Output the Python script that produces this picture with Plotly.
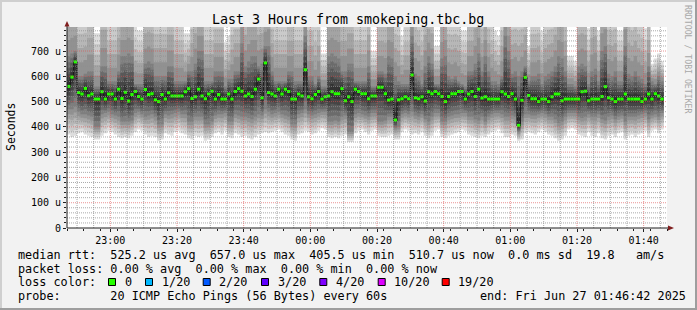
import plotly.graph_objects as go
from datetime import datetime, timedelta

# ---------------- data (values in microseconds) ----------------
# median rtt of each 1-minute step
med = [560, 597, 657, 536, 530, 552, 523, 530, 510, 510,
       539, 510, 530, 530, 510, 549, 512, 537, 502, 528,
       540, 520, 510, 548, 528, 531, 507, 500, 528, 510,
       535, 522, 522, 522, 522, 539, 551, 512, 519, 549,
       522, 511, 530, 541, 510, 528, 510, 510, 530, 510,
       540, 551, 541, 522, 530, 520, 549, 589, 515, 653,
       536, 530, 522, 549, 530, 549, 540, 510, 510, 530,
       522, 626, 519, 511, 528, 540, 510, 519, 522, 539,
       531, 531, 551, 503, 519, 500, 549, 540, 531, 531,
       511, 522, 522, 557, 557, 531, 506, 510, 427, 507,
       511, 519, 511, 605, 515, 511, 519, 502, 539, 531,
       540, 531, 520, 500, 520, 531, 531, 540, 540, 510,
       530, 540, 520, 549, 514, 519, 510, 510, 510, 510,
       539, 530, 520, 531, 510, 406, 505, 596, 524, 511,
       511, 500, 510, 510, 500, 519, 530, 530, 503, 510,
       510, 510, 510, 510, 539, 541, 503, 510, 510, 510,
       520, 559, 515, 510, 500, 510, 510, 530, 510, 510,
       510, 510, 500, 510, 530, 510, 531, 522, 510]

# upper quartile of the 20 pings
up = [680, 690, 700, 600, 600, 610, 620, 620, 560, 560,
      640, 640, 580, 580, 580, 620, 680, 680, 690, 680,
      570, 570, 570, 650, 660, 650, 600, 600, 600, 600,
      640, 640, 580, 580, 580, 580, 620, 620, 650, 700,
      700, 580, 580, 580, 620, 620, 620, 560, 590, 590,
      620, 620, 730, 640, 660, 680, 680, 640, 650, 720,
      720, 620, 580, 580, 580, 580, 620, 620, 580, 580,
      580, 760, 600, 600, 570, 600, 560, 560, 680, 690,
      680, 670, 620, 620, 650, 650, 580, 580, 580, 580,
      640, 560, 560, 620, 620, 610, 680, 670, 600, 580,
      570, 570, 570, 760, 610, 600, 570, 640, 680, 650,
      570, 570, 670, 680, 600, 590, 600, 580, 570, 560,
      620, 620, 650, 690, 620, 680, 620, 580, 580, 570,
      600, 760, 700, 610, 620, 600, 620, 640, 580, 600,
      600, 610, 570, 600, 610, 620, 640, 680, 670, 620,
      570, 570, 560, 640, 650, 640, 570, 620, 630, 580,
      700, 720, 610, 600, 620, 580, 580, 720, 610, 600,
      620, 600, 590, 570, 640, 580, 570, 600, 580]

# lower quartile of the 20 pings
dn = [470, 470, 480, 460, 450, 450, 445, 440, 400, 400,
      450, 455, 460, 450, 445, 440, 420, 420, 420, 425,
      455, 460, 450, 440, 445, 450, 440, 410, 410, 450,
      445, 450, 455, 460, 450, 450, 420, 420, 440, 440,
      440, 410, 410, 420, 445, 450, 450, 455, 420, 420,
      450, 445, 440, 440, 435, 430, 440, 450, 445, 470,
      460, 450, 455, 460, 450, 445, 440, 410, 410, 450,
      455, 470, 450, 445, 450, 455, 460, 460, 420, 420,
      425, 420, 440, 445, 380, 380, 450, 455, 450, 445,
      440, 455, 455, 420, 420, 425, 440, 440, 395, 400,
      450, 455, 450, 460, 445, 440, 450, 430, 420, 440,
      455, 455, 420, 420, 440, 445, 450, 450, 455, 455,
      440, 440, 430, 425, 440, 420, 440, 450, 455, 455,
      450, 440, 440, 445, 440, 380, 420, 450, 450, 445,
      445, 450, 455, 450, 440, 440, 430, 415, 420, 440,
      455, 455, 455, 440, 435, 440, 450, 440, 440, 450,
      430, 425, 440, 445, 430, 440, 445, 420, 440, 440,
      440, 445, 450, 455, 430, 445, 450, 440, 455]

# fastest ping of each step
lo = [370, 360, 365, 375, 380, 370, 365, 360, 350, 350,
      365, 375, 385, 380, 370, 360, 355, 360, 355, 365,
      380, 390, 385, 370, 360, 365, 360, 345, 350, 375,
      370, 365, 380, 385, 375, 370, 355, 350, 365, 360,
      365, 345, 350, 360, 375, 380, 370, 385, 360, 355,
      375, 370, 360, 365, 355, 350, 360, 370, 375, 380,
      375, 380, 385, 390, 380, 370, 365, 350, 345, 370,
      375, 385, 380, 370, 375, 385, 395, 390, 360, 355,
      360, 355, 365, 370, 340, 340, 375, 385, 390, 380,
      370, 385, 390, 365, 360, 360, 365, 370, 350, 350,
      380, 390, 385, 370, 375, 370, 380, 365, 355, 365,
      385, 390, 360, 355, 365, 370, 375, 380, 390, 385,
      370, 365, 360, 355, 365, 360, 370, 380, 385, 390,
      375, 360, 360, 370, 365, 345, 350, 375, 380, 375,
      370, 380, 390, 380, 370, 365, 355, 345, 350, 365,
      390, 395, 390, 370, 365, 360, 380, 365, 360, 375,
      355, 350, 365, 370, 360, 375, 380, 350, 365, 370,
      360, 370, 375, 385, 360, 385, 390, 375, 390]

# slowest ping of each step (many lie above the top of the graph)
hi = [1000, 1000, 1000, 880, 880, 880, 950, 950, 770, 770,
      1000, 1000, 850, 850, 850, 950, 1000, 1000, 1000, 1000,
      800, 780, 780, 950, 950, 950, 880, 880, 880, 880,
      950, 950, 850, 850, 850, 770, 770, 900, 950, 1000,
      1000, 850, 850, 850, 900, 900, 900, 735, 760, 880,
      900, 900, 1050, 950, 1000, 1000, 1000, 950, 950, 1000,
      1050, 900, 850, 850, 850, 850, 920, 920, 850, 850,
      850, 1100, 900, 900, 850, 900, 690, 690, 1000, 1000,
      1000, 1000, 920, 920, 950, 950, 850, 850, 850, 850,
      950, 700, 700, 920, 920, 920, 1000, 1000, 880, 880,
      760, 850, 850, 1100, 920, 900, 850, 950, 950, 950,
      720, 720, 1000, 1000, 880, 880, 880, 880, 780, 780,
      920, 920, 1000, 1000, 900, 1000, 900, 850, 780, 760,
      900, 1100, 1000, 900, 900, 900, 900, 950, 720, 880,
      880, 880, 780, 880, 900, 900, 950, 1000, 1000, 920,
      680, 680, 660, 950, 950, 950, 790, 950, 950, 780,
      1050, 1050, 900, 900, 900, 780, 780, 1050, 920, 900,
      920, 880, 860, 790, 900, 650, 670, 690, 660]

y_tick_vals = [0, 100, 200, 300, 400, 500, 600, 700]
y_tick_text = ["0", "100 u", "200 u", "300 u", "400 u", "500 u", "600 u", "700 u"]
x_tick_text = ["23:00", "23:20", "23:40", "00:00", "00:20", "00:40", "01:00", "01:20", "01:40"]

title_text = "Last 3 Hours from smokeping.tbc.bg"
legend_rtt = "median rtt:  525.2 us avg  657.0 us max  405.5 us min  510.7 us now  0.0 ms sd  19.8   am/s"
legend_loss = "packet loss: 0.00 % avg  0.00 % max  0.00 % min  0.00 % now"
legend_color_title = "loss color:"
loss_labels = ["0", "1/20", "2/20", "3/20", "4/20", "10/20", "19/20"]
loss_colors = ["#26ff00", "#00b8ff", "#0059ff", "#5e00ff", "#7e00ff", "#dd00ff", "#ff0000"]
probe_text = "probe:       20 ICMP Echo Pings (56 Bytes) every 60s"
end_text = "end: Fri Jun 27 01:46:42 2025"
watermark = "RRDTOOL / TOBI OETIKER"
PINGS = 20

# ---------------- geometry ----------------
W, H = 697, 310
PL, PR, PT, PB = 67, 667, 27, 228
Y_MAX = 795


def px(x):
    return (x - PL) / (PR - PL)


def py(y):
    return (PB - y) / (PB - PT)


start = datetime(2025, 6, 26, 22, 47, 0)
end = start + timedelta(hours=3)
n = len(med)
edges = [start + timedelta(minutes=i) for i in range(n + 1)]


def ext(v):
    return list(v) + [v[-1]]


def quant(i, p):
    """value of quantile p for step i, between the five read quantiles"""
    knots = [(0.0, lo[i]), (0.25, dn[i]), (0.5, med[i]), (0.75, up[i]), (1.0, hi[i])]
    for (p0, v0), (p1, v1) in zip(knots[:-1], knots[1:]):
        if p <= p1:
            return v0 + (v1 - v0) * (p - p0) / (p1 - p0)
    return knots[-1][1]


fig = go.Figure()

# smoke: layer k spans ping k .. ping (PINGS+1-k), darker towards the middle
half = PINGS // 2
for k in range(1, half + 1):
    p_lo = (k - 1) / PINGS
    p_hi = 1 - (k - 1) / PINGS
    low = [quant(i, p_lo) for i in range(n)]
    high = [quant(i, p_hi) for i in range(n)]
    g = int(190 / half * (half - k)) + 50
    col = f"rgb({g},{g},{g})"
    fig.add_trace(go.Scatter(x=edges, y=ext(low), mode="lines", line=dict(width=0, shape="hv"),
                             hoverinfo="skip", showlegend=False))
    fig.add_trace(go.Scatter(x=edges, y=ext(high), mode="lines", line=dict(width=0, shape="hv"),
                             fill="tonexty", fillcolor=col, hoverinfo="skip", showlegend=False))

# median connector
fig.add_trace(go.Scatter(x=edges, y=ext(med), mode="lines",
                         line=dict(width=1.2, shape="hv", color="#1a1a1a"),
                         hoverinfo="skip", showlegend=False))
# green median segments (0 % loss)
gx, gy = [], []
for i, m in enumerate(med):
    gx += [edges[i], edges[i + 1], None]
    gy += [m, m, None]
fig.add_trace(go.Scatter(x=gx, y=gy, mode="lines", line=dict(width=3, color=loss_colors[0]),
                         connectgaps=False, hoverinfo="skip", showlegend=False))

shapes = []
# grid (drawn over the smoke like rrdtool)
minor_col = "rgba(143,143,143,0.75)"
major_col = "rgba(222,79,79,0.6)"
for v in range(20, Y_MAX, 20):
    shapes.append(dict(type="line", xref="paper", yref="y", x0=0, x1=1, y0=v, y1=v,
                       line=dict(color=major_col if v % 100 == 0 else minor_col, width=1, dash="1px,1px"),
                       layer="above"))
t = start
major_times = []
while t <= end:
    if t.minute % 5 == 0 and t > start:
        is_major = t.minute % 20 == 0
        if is_major:
            major_times.append(t)
        shapes.append(dict(type="line", xref="x", yref="paper", x0=t, x1=t, y0=0, y1=1,
                           line=dict(color=major_col if is_major else minor_col, width=1, dash="1px,1px"),
                           layer="above"))
    t += timedelta(minutes=1)

# axes lines and arrows
axis_col = "#1f1f1f"
arrow_col = "#801f1f"
shapes.append(dict(type="line", xref="paper", yref="paper", x0=px(PL), x1=px(670), y0=0, y1=0,
                   line=dict(color=axis_col, width=1), layer="above"))
shapes.append(dict(type="line", xref="paper", yref="paper", x0=0, x1=0, y0=0, y1=py(24),
                   line=dict(color=axis_col, width=1), layer="above"))
shapes.append(dict(type="path", xref="paper", yref="paper",
                   path=f"M {px(668)} {py(225.5)} L {px(674)} {py(228)} L {px(668)} {py(230.5)} Z",
                   fillcolor=arrow_col, line=dict(width=0), layer="above"))
shapes.append(dict(type="path", xref="paper", yref="paper",
                   path=f"M {px(64.5)} {py(26.5)} L {px(67)} {py(21)} L {px(69.5)} {py(26.5)} Z",
                   fillcolor=arrow_col, line=dict(width=0), layer="above"))

# frame shading
shapes += [
    dict(type="rect", xref="paper", yref="paper", x0=px(0), x1=px(W), y0=py(0), y1=py(2),
         fillcolor="#cfcfcf", line=dict(width=0), layer="below"),
    dict(type="rect", xref="paper", yref="paper", x0=px(0), x1=px(2), y0=py(0), y1=py(H),
         fillcolor="#cfcfcf", line=dict(width=0), layer="below"),
    dict(type="rect", xref="paper", yref="paper", x0=px(0), x1=px(W), y0=py(H - 2), y1=py(H),
         fillcolor="#9e9e9e", line=dict(width=0), layer="below"),
    dict(type="rect", xref="paper", yref="paper", x0=px(W - 2), x1=px(W), y0=py(0), y1=py(H),
         fillcolor="#9e9e9e", line=dict(width=0), layer="below"),
]

# loss colour boxes
box_centers = [112, 149, 206.7, 265, 323.3, 381.7, 445.7]
for cx, col in zip(box_centers, loss_colors):
    shapes.append(dict(type="rect", xref="paper", yref="paper",
                       x0=px(cx - 3.5), x1=px(cx + 3.5), y0=py(278.5), y1=py(285.5),
                       fillcolor=col, line=dict(color="#000000", width=1), layer="above"))

MONO = "DejaVu Sans Mono"
nb = lambda s: s.replace(" ", "\u00a0")
ann = []


def add_text(text, x, y, size, xanchor="left", color="#000000", angle=0):
    ann.append(dict(text=nb(text), xref="paper", yref="paper", x=px(x), y=py(y),
                    xanchor=xanchor, yanchor="middle", showarrow=False, textangle=angle,
                    font=dict(family=MONO, size=size, color=color)))


add_text(title_text, 348, 19.5, 13.3, xanchor="center")
add_text("Seconds", 11, 127, 11.5, xanchor="center", angle=-90)
add_text(watermark, 688, 59, 8.2, xanchor="center", color="#a8a8a8", angle=90)
add_text(legend_rtt, 15.5, 254.7, 11.8)
add_text(legend_loss, 15.5, 268.5, 11.8)
add_text(legend_color_title, 15.5, 282.2, 11.8)
for cx, lab in zip(box_centers, loss_labels):
    add_text(lab, cx - 3.5 + 14, 282.2, 11.8)
add_text(probe_text, 15.5, 296.2, 11.8)
add_text(end_text, 477.5, 296.2, 11.8)

fig.update_layout(
    width=W, height=H,
    margin=dict(l=PL, r=W - PR, t=PT, b=H - PB, pad=0),
    paper_bgcolor="#f2f2f2", plot_bgcolor="#ffffff",
    showlegend=False,
    shapes=shapes, annotations=ann,
    xaxis=dict(type="date", range=[start, end], showgrid=False, zeroline=False, showline=False,
               tickmode="array", tickvals=major_times, ticktext=x_tick_text,
               ticks="outside", ticklen=3, tickcolor=axis_col,
               tickfont=dict(family=MONO, size=10, color="#000000"),
               minor=dict(tickmode="linear", tick0=start, dtick=300000, ticks="outside",
                          ticklen=2, tickcolor=axis_col, showgrid=False),
               fixedrange=True),
    yaxis=dict(range=[0, Y_MAX], showgrid=False, zeroline=False, showline=False,
               tickmode="array", tickvals=y_tick_vals, ticktext=y_tick_text,
               ticks="outside", ticklen=3, tickcolor=axis_col,
               tickfont=dict(family=MONO, size=10, color="#000000"),
               minor=dict(tickmode="linear", tick0=0, dtick=20, ticks="outside",
                          ticklen=2, tickcolor=axis_col, showgrid=False),
               fixedrange=True),
)

fig.write_html("out.html", config={"displayModeBar": False})
